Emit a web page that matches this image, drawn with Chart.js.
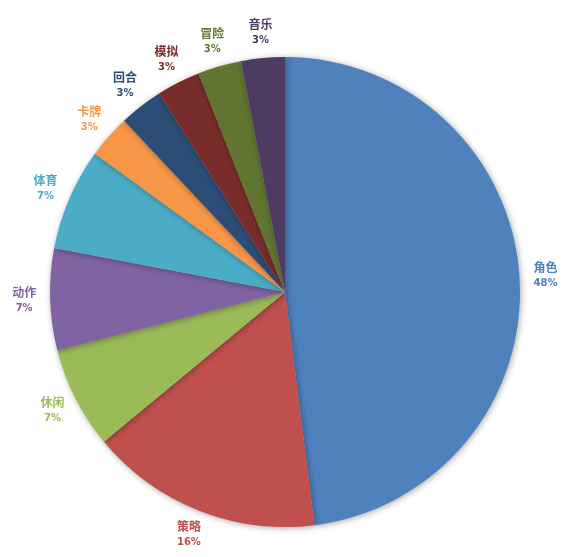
<!DOCTYPE html>
<html>
<head>
<meta charset="utf-8">
<script src="https://cdn.jsdelivr.net/npm/chart.js@4"></script>
<style>
  body { margin: 0; background: #fff; }
  #wrap { width: 571px; height: 557px; }
</style>
</head>
<body>
<div id="wrap"><canvas id="pie"></canvas></div>
<script>
// Data
const labels = ['角色', '策略', '休闲', '动作', '体育', '卡牌', '回合', '模拟', '冒险', '音乐'];
const shares = [48, 16, 7, 7, 7, 3, 3, 3, 3, 3];
const colors = ['#4F81BD', '#C0504D', '#9BBB59', '#8064A2', '#4BACC6', '#F79646', '#2C4D75', '#772C2A', '#5F7530', '#4D3B62'];

// Outside labels drawn per slice
const outsideLabels = {
  id: 'outsideLabels',
  afterDatasetsDraw(chart) {
    const ctx = chart.ctx;
    const meta = chart.getDatasetMeta(0);
    ctx.save();
    ctx.textAlign = 'center';
    ctx.textBaseline = 'middle';
    meta.data.forEach((arc, i) => {
      const mid = (arc.startAngle + arc.endAngle) / 2;
      const r = arc.outerRadius + 26;
      const x = arc.x + Math.cos(mid) * r;
      const y = arc.y + Math.sin(mid) * r;
      ctx.fillStyle = colors[i];
      ctx.font = 'bold 12px "Noto Sans CJK SC", sans-serif';
      ctx.fillText(labels[i], x, y - 8);
      ctx.font = 'bold 10px "DejaVu Sans", sans-serif';
      ctx.fillText(shares[i] + '%', x, y + 8);
    });
    ctx.restore();
  }
};

// Soft shadow under the pie
const pieShadow = {
  id: 'pieShadow',
  beforeDatasetsDraw(chart) {
    const ctx = chart.ctx;
    ctx.save();
    ctx.shadowColor = 'rgba(0,0,0,0.35)';
    ctx.shadowBlur = 6;
    ctx.shadowOffsetX = 1;
    ctx.shadowOffsetY = 1;
  },
  afterDatasetsDraw(chart) {
    chart.ctx.restore();
  }
};

new Chart(document.getElementById('pie'), {
  type: 'pie',
  data: {
    labels: labels,
    datasets: [{
      data: shares,
      backgroundColor: colors,
      borderColor: '#ffffff',
      borderWidth: 0
    }]
  },
  options: {
    responsive: true,
    maintainAspectRatio: false,
    animation: false,
    layout: { padding: { left: 50, right: 51, top: 57, bottom: 30 } },
    plugins: {
      legend: { display: false },
      tooltip: { enabled: false }
    }
  },
  plugins: [pieShadow, outsideLabels]
});
</script>
</body>
</html>
